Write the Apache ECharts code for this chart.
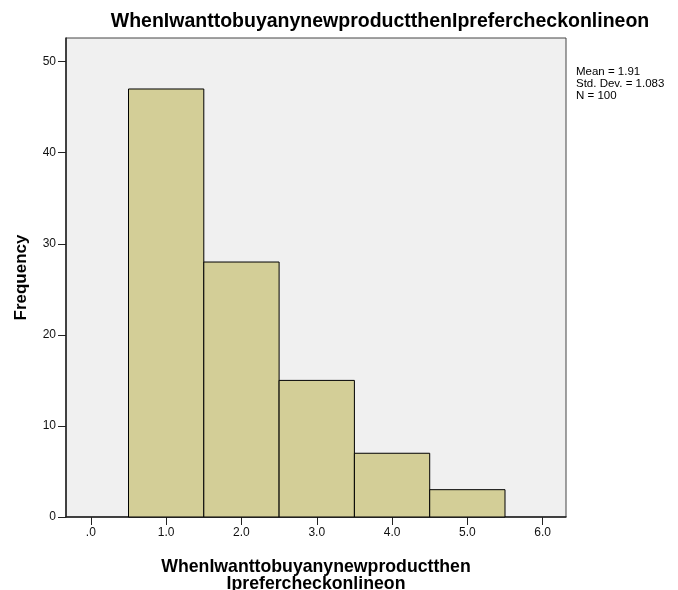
<!DOCTYPE html>
<html><head><meta charset="utf-8">
<script src="https://cdn.jsdelivr.net/npm/echarts@6/dist/echarts.min.js"></script>
<style>html,body{margin:0;padding:0;background:#fff}#c{width:678px;height:590px}</style>
</head><body><div id="c"></div>
<script>
const binStarts = [0.5, 1.5, 2.5, 3.5, 4.5];
const binEnds = [1.5, 2.5, 3.5, 4.5, 5.5];
const frequencies = [47, 28, 15, 7, 3];
const xTicks = [0, 1, 2, 3, 4, 5, 6];
const xTickLabels = ['.0', '1.0', '2.0', '3.0', '4.0', '5.0', '6.0'];
const yTicks = [0, 10, 20, 30, 40, 50];
const titleText = 'WhenIwanttobuyanynewproductthenIprefercheckonlineon';
const xName = 'WhenIwanttobuyanynewproductthen\nIprefercheckonlineon';
const yName = 'Frequency';
const statsLines = ['Mean = 1.91', 'Std. Dev. = 1.083', 'N = 100'];

const data = frequencies.map((f, i) => [binStarts[i], binEnds[i], f]);
const FONT = 'Liberation Sans, Arial, sans-serif';
const chart = echarts.init(document.getElementById('c'));
chart.setOption({
  animation: false,
  backgroundColor: '#fff',
  title: {
    text: titleText, left: 375, top: 7, textAlign: 'center',
    textStyle: {fontFamily: FONT, fontSize: 19.5, fontWeight: 'bold', color: '#000'}
  },
  graphic: [{
    type: 'text', left: 576, top: 66,
    style: {text: statsLines.join('\n'), font: '11.5px ' + FONT, fill: '#000', lineHeight: 12}
  }],
  grid: {left: 66, right: 112, top: 38, bottom: 73, containLabel: false, outerBoundsMode: 'none',
    show: true, backgroundColor: '#f0f0f0', borderColor: '#444', borderWidth: 1},
  xAxis: {
    type: 'value', min: -0.33, max: 6.31,
    name: xName, nameLocation: 'middle', nameGap: 42,
    nameTextStyle: {fontFamily: FONT, fontSize: 17.7, fontWeight: 'bold', color: '#000', lineHeight: 17},
    axisLine: {show: true, onZero: false, lineStyle: {color: '#222', width: 1.5}},
    axisTick: {show: true, length: 8, customValues: xTicks, lineStyle: {color: '#222'}},
    axisLabel: {customValues: xTicks, formatter: v => xTickLabels[xTicks.indexOf(Math.round(v))] ?? '',
      fontFamily: FONT, fontSize: 12, color: '#111', margin: 10},
    splitLine: {show: false}
  },
  yAxis: {
    type: 'value', min: 0, max: 52.6,
    name: yName, nameLocation: 'middle', nameGap: 36, nameRotate: 90,
    nameTextStyle: {fontFamily: FONT, fontSize: 17, fontWeight: 'bold', color: '#000'},
    axisLine: {show: true, onZero: false, lineStyle: {color: '#222', width: 1.5}},
    axisTick: {show: true, length: 8, customValues: yTicks, lineStyle: {color: '#222'}},
    axisLabel: {customValues: yTicks, fontFamily: FONT, fontSize: 12, color: '#111', margin: 10},
    splitLine: {show: false}
  },
  series: [{
    type: 'custom',
    data: data,
    renderItem: function (params, api) {
      const p0 = api.coord([api.value(0), api.value(2)]);
      const p1 = api.coord([api.value(1), 0]);
      return {
        type: 'rect',
        shape: {x: p0[0], y: p0[1], width: p1[0] - p0[0], height: p1[1] - p0[1]},
        style: {fill: '#d3ce97', stroke: '#000', lineWidth: 1}
      };
    },
    encode: {x: [0, 1], y: 2}
  }]
});
</script></body></html>
